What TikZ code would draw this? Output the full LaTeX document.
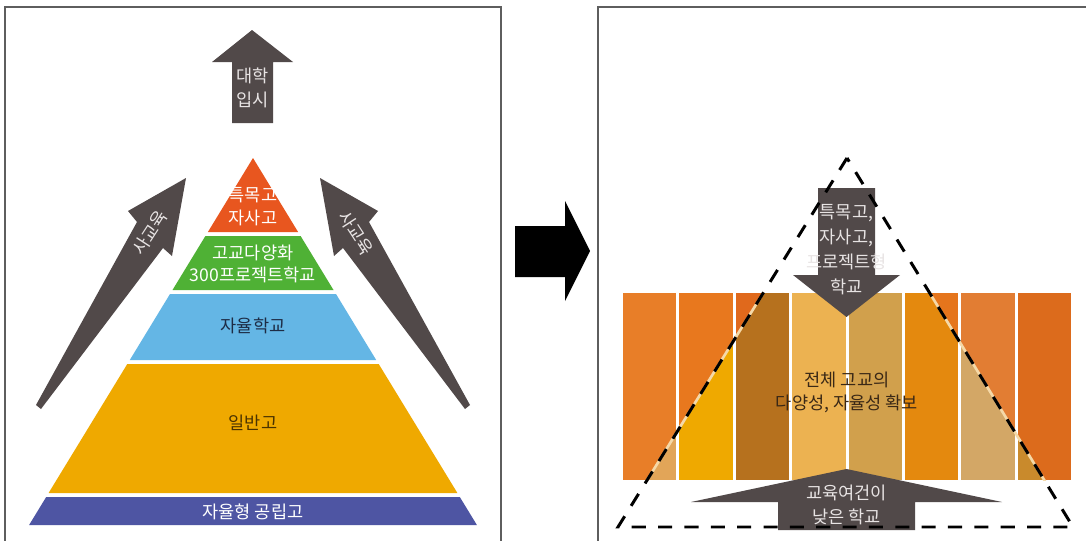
\documentclass[tikz,border=0pt]{standalone}
\usepackage{fontspec}
\setmainfont{Noto Sans CJK KR}
\usepackage{tikz}

\definecolor{panelgray}{HTML}{5E5E5E}
\definecolor{arrowgray}{HTML}{514949}
\definecolor{arrowtext}{HTML}{E8E4E4}
\definecolor{pyrorange}{HTML}{E8561F}
\definecolor{pyrgreen}{HTML}{4FB135}
\definecolor{pyrblue}{HTML}{64B6E5}
\definecolor{pyryellow}{HTML}{EFA900}
\definecolor{pyrband}{HTML}{4E55A3}
\definecolor{bluetext}{HTML}{1D2C45}
\definecolor{yellowtext}{HTML}{4A3300}
\definecolor{centertext}{HTML}{3A2816}
\definecolor{edgecream}{HTML}{F5D9A8}
% stripes, outside / inside the dashed triangle
\definecolor{sOne}{HTML}{E87E28}   \definecolor{sOneIn}{HTML}{E2A558}
\definecolor{sTwo}{HTML}{E8781E}   \definecolor{sTwoIn}{HTML}{EFA900}
\definecolor{sThree}{HTML}{E0691C} \definecolor{sThreeIn}{HTML}{B6711E}
\definecolor{sFour}{HTML}{ECB251}
\definecolor{sFive}{HTML}{D1A04C}
\definecolor{sSix}{HTML}{E5751C}   \definecolor{sSixIn}{HTML}{E4890E}
\definecolor{sSeven}{HTML}{E27D33} \definecolor{sSevenIn}{HTML}{D3A766}
\definecolor{sEight}{HTML}{DC6B1C} \definecolor{sEightIn}{HTML}{C98A2C}

\begin{document}
\begin{tikzpicture}[
    x=0.02cm, y=-0.02cm,
    panel/.style={draw=panelgray, line width=1.1pt},
    darrow/.style={fill=arrowgray},
    lbl/.style={font=\fontsize{10}{13}\selectfont, align=center, inner sep=0pt},
    onarrow/.style={lbl, text=arrowtext},
    dashtri/.style={draw=black, line width=1.7pt, dash pattern=on 8pt off 7pt},
]
\clip (0,0) rectangle (1086,541);
\fill[white] (0,0) rectangle (1086,541);

% Panels
\draw[panel] (5,7) rectangle (501,560);
\draw[panel] (598,7) rectangle (1100,560);

% Left - pyramid
\fill[pyrorange] (253,158) -- (298.1,232) -- (207.9,232) -- cycle;
\fill[pyrgreen] (205.4,236) -- (300.6,236) -- (333.5,290) -- (172.5,290) -- cycle;
\fill[pyrblue] (170,294) -- (336,294) -- (376.2,360) -- (129.8,360) -- cycle;
\fill[pyryellow] (127.3,364) -- (378.7,364) -- (457.4,493) -- (48.6,493) -- cycle;
\fill[pyrband] (46.2,497) -- (459.8,497) -- (476.9,525) -- (29.1,525) -- cycle;

\node[lbl, text=white] (tukmok) at (253,207) {특목고\\자사고};
\node[lbl, text=white, font=\fontsize{10}{12.5}\selectfont] (gogyo) at (253,264) {고교다양화\\300프로젝트학교};
\node[lbl, text=bluetext] (jayul) at (253,326) {자율학교};
\node[lbl, text=yellowtext] (ilban) at (253,423) {일반고};
\node[lbl, text=white] (gongrip) at (253,512) {자율형 공립고};

% Left - arrows
\fill[darrow] (252,30) -- (293,62) -- (273,62) -- (273,123) -- (232,123) -- (232,62) -- (212,62) -- cycle;
\node[onarrow, font=\fontsize{10}{14}\selectfont] (ipsi) at (252.5,88) {대학\\입시};

\fill[darrow] (186,178) -- (172,256) -- (163,248) -- (41,409) -- (36,405) -- (137,222) -- (128,211) -- cycle;
\fill[darrow] (320,178) -- (334,256) -- (343,248) -- (465,409) -- (470,405) -- (369,222) -- (378,211) -- cycle;
\node[onarrow, rotate=57] (sagyoL) at (150,233) {사교육};
\node[onarrow, rotate=-57] (sagyoR) at (356,233) {사교육};

% Middle arrow
\fill[black] (515,226) -- (565,226) -- (565,201) -- (590,251) -- (565,301) -- (565,277) -- (515,277) -- cycle;

% Right - stripes
\fill[sOne] (623,293) rectangle (676.4,480);
\fill[sTwo] (679.4,293) rectangle (732.8,480);
\fill[sThree] (735.8,293) rectangle (789.2,480);
\fill[sFour] (792.2,293) rectangle (845.6,480);
\fill[sFive] (848.6,293) rectangle (902,480);
\fill[sSix] (905,293) rectangle (958.4,480);
\fill[sSeven] (961.4,293) rectangle (1014.8,480);
\fill[sEight] (1017.8,293) rectangle (1071.2,480);

\begin{scope}
    \clip (847,158) -- (618,527) -- (1073,527) -- cycle;
    \fill[sOneIn] (623,293) rectangle (676.4,480);
    \fill[sTwoIn] (679.4,293) rectangle (732.8,480);
    \fill[sThreeIn] (735.8,293) rectangle (789.2,480);
    \fill[sSixIn] (905,293) rectangle (958.4,480);
    \fill[sSevenIn] (961.4,293) rectangle (1014.8,480);
    \fill[sEightIn] (1017.8,293) rectangle (1071.2,480);
\end{scope}

\begin{scope}
    \clip (623,293) rectangle (1071.2,480);
    \draw[edgecream, line width=1.5pt] (847,158) -- (618,527) (847,158) -- (1073,527);
\end{scope}

\node[lbl, text=centertext] (daeyang) at (847,392) {전체 고교의\\다양성, 자율성 확보};

% Right - arrows
\fill[darrow] (818,188) -- (875,188) -- (875,275) -- (900,275) -- (846.5,317) -- (793,275) -- (818,275) -- cycle;
\node[onarrow, font=\fontsize{10}{14.2}\selectfont] (tukmokR) at (846.5,250) {특목고,\\자사고,\\프로젝트형\\학교};

\fill[darrow] (846.5,469) -- (1002,502) -- (915,502) -- (915,530) -- (778,530) -- (778,502) -- (691,502) -- cycle;
\node[onarrow, font=\fontsize{10}{13.5}\selectfont] (gyoyuk) at (846.5,505) {교육여건이\\낮은 학교};

% Dashed triangle
\draw[dashtri] (847,158) -- (618,527) -- (1073,527) -- cycle;

\end{tikzpicture}
\end{document}
